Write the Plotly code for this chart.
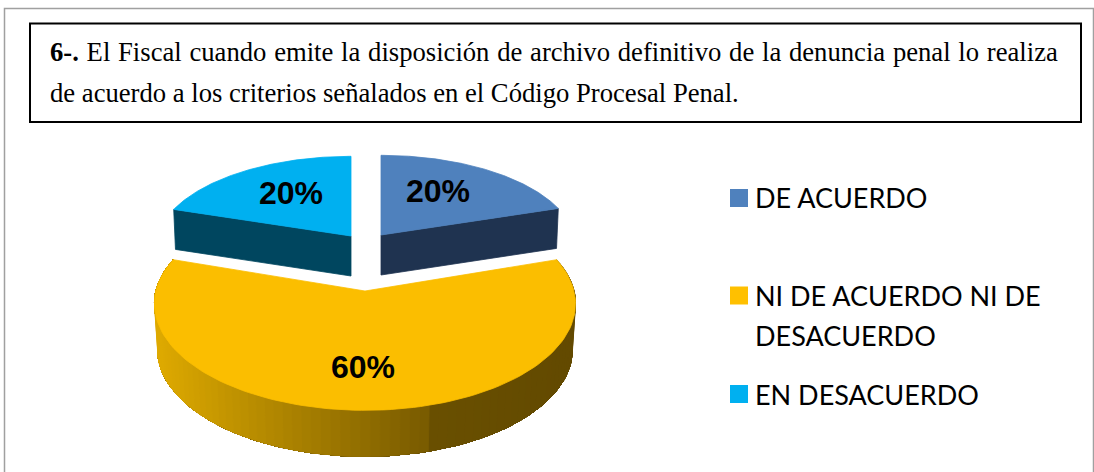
import numpy as np
import plotly.graph_objects as go

categories = ["DE ACUERDO", "NI DE ACUERDO NI DE<br>DESACUERDO", "EN DESACUERDO"]
values = [20, 60, 20]
labels = ["20%", "60%", "20%"]
title_line_1 = "<b>6-.</b> El Fiscal cuando emite la disposición de archivo definitivo de la denuncia penal lo realiza"
title_line_2 = "de acuerdo a los criterios señalados en el Código Procesal Penal."

W, H = 1094, 472
top_colors = ["#4F81BD", "#FBBE00", "#00B0F0"]
side_colors = ["#1F3350", None, "#00465F"]
legend_colors = ["#4F81BD", "#FFC000", "#00B0F0"]
apex = [(381, 235), (365, 291), (351, 236)]
scale = [(0.925, 0.85), (1, 1), (0.925, 0.85)]
depth = [40, 46, 40]
label_xy = [(438, 191), (363, 367), (291, 193)]
legend_marker_y = [198, 295.5, 394]
legend_text_y = [[197], [295, 335], [394]]
K, RX, RY = 0.12, 209, 105


def project(a, r, i):
    u, v = r * np.sin(a), -r * np.cos(a)
    d = 1 - K * v
    return apex[i][0] + scale[i][0] * RX * u / d, apex[i][1] + scale[i][1] * RY * v / d


def poly(x, y, color):
    return go.Scatter(x=list(x), y=list(y), mode="lines", fill="toself", fillcolor=color,
                      line=dict(color=color, width=0.8), hoverinfo="skip", showlegend=False)


def gradient(x):
    stops_x = [158, 240, 425, 432, 572]
    stops_c = [(222, 170, 0), (190, 145, 0), (122, 92, 0), (106, 80, 0), (99, 74, 0)]
    return "rgb(%d,%d,%d)" % tuple(np.interp(x, stops_x, [c[j] for c in stops_c]) for j in range(3))


fig = go.Figure()
edges = np.cumsum([0] + values) / sum(values) * 2 * np.pi

# side walls
for i, (a0, a1) in enumerate(zip(edges[:-1], edges[1:])):
    if side_colors[i] is None:
        # painted from right to left; each band runs on to the far end so no seams show
        ts = np.linspace(a0, a1, 90)
        px, py = project(ts, 1, i)
        cx = apex[i][0]
        bx = cx + (px - cx) * 0.985
        by = py + depth[i]
        for j in range(len(ts) - 1):
            fig.add_trace(poly([*px[j:], *bx[j:][::-1], px[j]],
                               [*py[j:], *by[j:][::-1], py[j]],
                               gradient((px[j] + px[j + 1]) / 2)))
    else:
        a = a1 if i == 0 else a0
        ex, ey = project(a, 1, i)
        ax, ay = apex[i]
        d = depth[i]
        bx = ax + (ex - ax) * 0.99
        fig.add_trace(poly([ax, ex, bx, ax, ax], [ay, ey, ey + d, ay + d, ay], side_colors[i]))

# top surfaces
for i, (a0, a1) in enumerate(zip(edges[:-1], edges[1:])):
    ts = np.linspace(a0, a1, 120)
    px, py = project(ts, 1, i)
    ax, ay = apex[i]
    fig.add_trace(poly([ax, *px, ax], [ay, *py, ay], top_colors[i]))

# legend markers
fig.add_trace(go.Scatter(x=[739, 739, 739], y=legend_marker_y, mode="markers",
                         marker=dict(symbol="square", size=18, color=legend_colors, line=dict(width=0)),
                         hoverinfo="skip", showlegend=False))

ann = []
for lab, (x, y) in zip(labels, label_xy):
    ann.append(dict(x=x, y=y, text="<b>%s</b>" % lab, showarrow=False, xanchor="center", yanchor="middle",
                    font=dict(family="Liberation Sans", size=32, color="#000000")))
for cat, ys in zip(categories, legend_text_y):
    for part, y in zip(cat.split("<br>"), ys):
        ann.append(dict(x=752.5, y=y, text=part, showarrow=False, xanchor="left", yanchor="middle", align="left",
                        font=dict(family="Lato", size=27, color="#000000")))
for t, y in zip([title_line_1, title_line_2], [52, 93]):
    ann.append(dict(x=48, y=y, text=t, showarrow=False, xanchor="left", yanchor="middle", align="left",
                    font=dict(family="Liberation Serif", size=26.65, color="#000000")))

shapes = [
    dict(type="rect", x0=4.5, y0=8.5, x1=1093.5, y1=490, line=dict(color="#A0A0A0", width=1.5), layer="below"),
    dict(type="rect", x0=30, y0=23.5, x1=1081, y1=122, line=dict(color="#000000", width=2), fillcolor="#FFFFFF", layer="below"),
]

fig.update_layout(
    width=W, height=H, autosize=False, margin=dict(l=0, r=0, t=0, b=0),
    paper_bgcolor="#FFFFFF", plot_bgcolor="#FFFFFF", showlegend=False,
    xaxis=dict(range=[0, W], visible=False, fixedrange=True),
    yaxis=dict(range=[H, 0], visible=False, fixedrange=True),
    annotations=ann, shapes=shapes,
)
post = "document.body.style.margin='0';document.querySelectorAll('.annotation-text').forEach(function(t){if(t.textContent.indexOf('6-.')===0){t.style.wordSpacing='1.1px';}});"
fig.write_html("out.html", post_script=post, config={"displayModeBar": False})
